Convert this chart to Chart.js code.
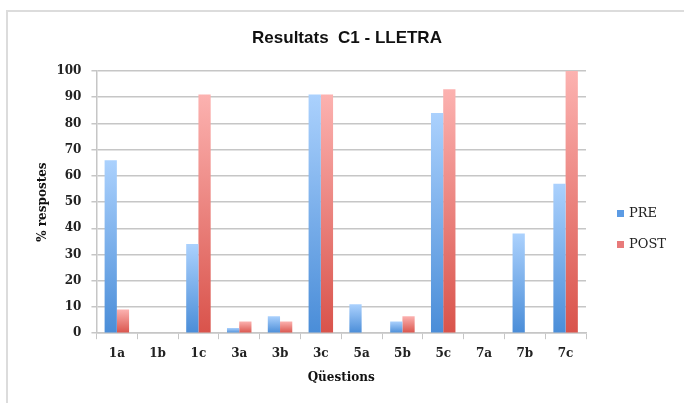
<!DOCTYPE html>
<html>
<head>
<meta charset="utf-8">
<script src="https://cdn.jsdelivr.net/npm/chart.js@4/dist/chart.umd.min.js"></script>
<style>
  html, body { margin: 0; padding: 0; background: #fff; }
  #wrap { position: relative; width: 684px; height: 403px; overflow: hidden; }
  #frame { position: absolute; left: 6px; top: 10px; width: 700px; height: 420px;
           border-top: 2px solid #dcdcdc; border-left: 2px solid #dcdcdc; }
  canvas { position: absolute; left: 0; top: 0; }
</style>
</head>
<body>
<div id="wrap">
  <div id="frame"></div>
  <canvas id="chart" width="684" height="403"></canvas>
</div>
<script>
const questions = ['1a', '1b', '1c', '3a', '3b', '3c', '5a', '5b', '5c', '7a', '7b', '7c'];
const preValues = [66, 0, 34, 2, 6.5, 91, 11, 4.5, 84, 0, 38, 57];
const postValues = [9, 0, 91, 4.5, 4.5, 91, 0, 6.5, 93, 0, 0, 100];
const seriesNames = ['PRE', 'POST'];
const chartTitle = 'Resultats  C1 - LLETRA';

const gridColor = '#c6c6c6';
const tickFont = { family: 'DejaVu Serif', size: 12, weight: 'bold' };

// gradient from the top of each bar (light) down to its base (dark)
function barGradient(light, dark){
  return function(ctx){
    const chart = ctx.chart;
    const y = chart.scales.y;
    if(!y || ctx.raw == null) return dark;
    const y0 = y.getPixelForValue(0);
    const y1 = y.getPixelForValue(ctx.raw);
    if(!isFinite(y0) || !isFinite(y1) || y0 === y1) return dark;
    const g = chart.ctx.createLinearGradient(0, y1, 0, y0);
    g.addColorStop(0, light);
    g.addColorStop(1, dark);
    return g;
  };
}

// title over the whole frame and the legend on the right, like the original
const decorations = {
  id: 'decorations',
  afterDraw(chart){
    const c = chart.ctx;
    const area = chart.chartArea;
    c.save();
    c.font = 'bold 17px "Liberation Sans"';
    c.textAlign = 'center';
    c.textBaseline = 'middle';
    c.fillStyle = '#111';
    c.fillText(chartTitle, 347, 38);

    const x = area.right + 31;
    const rows = [214, 245];
    c.font = '13px "DejaVu Serif"';
    c.textAlign = 'left';
    chart.data.datasets.forEach((ds, i) => {
      c.fillStyle = ds.legendColor;
      c.fillRect(x, rows[i] - 4, 7, 7);
      c.fillStyle = '#222';
      c.fillText(ds.label, x + 12, rows[i]);
    });
    c.restore();
  }
};

new Chart(document.getElementById('chart'), {
  type: 'bar',
  data: {
    labels: questions,
    datasets: [
      { label: seriesNames[0], data: preValues,
        backgroundColor: barGradient('#abd1fd', '#4a8dd8'), legendColor: '#5c9be4' },
      { label: seriesNames[1], data: postValues,
        backgroundColor: barGradient('#fcb2b0', '#d9534b'), legendColor: '#e87a7a' }
    ]
  },
  options: {
    responsive: false,
    animation: false,
    devicePixelRatio: 1,
    categoryPercentage: 0.6,
    barPercentage: 1,
    layout: { padding: { left: 32, right: 98, top: 71, bottom: 14 } },
    plugins: {
      legend: { display: false },
      tooltip: { enabled: false },
      title: { display: false }
    },
    scales: {
      x: {
        grid: { offset: true, drawOnChartArea: false, color: gridColor, tickLength: 6 },
        border: { color: gridColor, width: 1.5 },
        ticks: { font: tickFont, color: '#222', padding: 7 },
        title: { display: true, text: 'Qüestions', color: '#111',
                 font: { family: 'DejaVu Serif', size: 12, weight: 'bold' },
                 padding: { top: 3, bottom: 4 } }
      },
      y: {
        min: 0, max: 100,
        grid: { color: gridColor, lineWidth: 1.5, tickLength: 5 },
        border: { color: gridColor, width: 1.5 },
        ticks: { stepSize: 10, font: tickFont, color: '#222', padding: 10 },
        title: { display: true, text: '% respostes', color: '#111',
                 font: { family: 'DejaVu Serif', size: 12, weight: 'bold' },
                 padding: { top: 4, bottom: -4 } }
      }
    }
  },
  plugins: [decorations]
});
</script>
</body>
</html>
